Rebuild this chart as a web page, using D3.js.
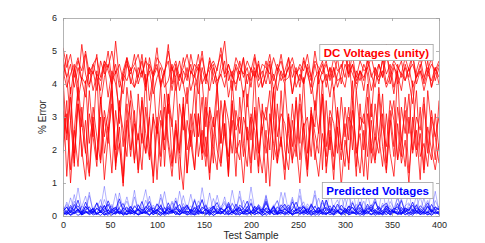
<!DOCTYPE html>
<html>
<head>
<meta charset="utf-8">
<script src="https://cdn.jsdelivr.net/npm/d3@7"></script>
<style>
  body { margin: 0; background: #fff; }
  text { font-family: "Liberation Sans", Arial, sans-serif; }
</style>
</head>
<body>
<div id="chart"></div>
<script>
// sample index, one value every 4 test samples
var sampleStep = 4;
var xTicks = [0, 50, 100, 150, 200, 250, 300, 350, 400];
var yTicks = [0, 1, 2, 3, 4, 5, 6];

var dcUpper1 = [4.8,4.2,4.6,3.9,4.5,4.1,4.9,4.0,4.4,3.8,4.7,4.3,5.0,4.1,4.6,3.9,4.4,4.8,4.0,4.5,4.2,4.9,3.9,4.6,4.3,5.1,4.0,4.4,4.7,3.8,4.5,4.1,4.8,4.2,4.6,3.9,4.3,5.0,4.1,4.7,4.0,4.5,4.9,4.2,4.4,3.8,4.6,4.3,4.8,4.0,4.5,4.2,4.7,3.9,4.4,4.9,4.1,4.6,4.3,4.0,4.8,4.2,4.5,3.9,4.7,4.4,4.1,5.0,4.3,4.6,3.9,4.5,4.2,4.8,4.0,4.6,4.3,4.9,4.1,4.4,3.8,4.7,4.2,4.5,4.0,4.8,4.3,4.6,3.9,4.4,4.7,4.1,4.5,4.9,4.2,4.6,4.0,4.4,4.8,4.1,4.5];
var dcUpper2 = [4.1,4.9,3.7,4.5,4.0,5.2,4.3,3.9,4.6,4.2,3.8,4.7,4.4,4.0,5.3,4.1,3.7,4.6,4.3,4.9,4.0,4.4,3.8,4.8,4.2,4.5,3.9,4.3,5.2,4.0,4.6,3.8,4.4,4.1,4.9,4.3,3.7,4.5,4.0,4.8,4.3,3.9,4.6,5.3,4.1,4.4,3.8,4.7,4.2,4.5,3.9,4.8,4.1,4.4,4.0,4.6,3.8,4.3,4.9,4.2,4.5,3.7,4.4,4.1,4.8,4.3,3.9,4.6,4.0,4.4,4.7,4.1,4.5,3.9,4.3,5.1,4.2,4.6,3.8,4.4,4.1,4.8,4.3,3.9,4.6,4.2,5.2,4.0,4.5,4.3,3.8,4.6,4.2,4.9,4.0,4.4,4.1,4.7,3.9,4.5,4.2];
var dcUpper3 = [4.4,3.9,4.3,4.6,3.5,4.2,4.0,4.5,3.8,4.3,4.1,4.6,3.6,4.4,4.0,3.2,4.3,4.1,4.5,3.9,4.2,4.7,4.0,4.4,3.7,4.2,4.5,3.9,4.1,4.6,3.8,4.3,4.0,3.4,4.4,4.2,4.6,4.0,4.3,3.8,4.5,4.1,4.3,3.9,4.6,4.2,4.0,4.4,3.6,4.3,4.1,4.5,3.9,4.2,4.7,4.0,4.3,3.8,4.4,4.1,4.2,4.6,3.9,4.3,4.0,4.5,3.7,4.2,4.4,4.0,4.3,3.6,4.5,4.1,4.2,3.9,4.6,4.3,4.0,4.4,4.2,4.5,3.8,4.3,4.1,4.4,3.9,4.2,4.6,4.0,4.3,4.1,4.5,3.9,4.2,4.4,3.8,4.3,4.1,4.5,4.0];
var dcUpper4 = [4.6,4.2,2.9,4.4,4.8,4.1,3.6,4.5,4.3,4.9,3.4,4.2,4.6,4.0,4.4,2.8,4.3,4.7,4.1,3.9,4.5,4.2,4.8,3.5,4.3,4.6,4.0,4.4,3.1,4.5,4.2,4.7,4.0,4.5,3.8,4.3,4.9,4.1,2.7,4.4,4.6,4.0,4.3,4.7,3.6,4.2,4.5,4.1,4.8,3.3,4.4,4.2,4.6,3.9,4.3,4.7,2.9,4.5,4.1,4.4,4.8,3.7,4.3,4.5,4.0,4.6,4.2,3.2,4.4,4.7,4.1,4.5,3.8,4.3,4.6,4.2,4.9,3.5,4.4,4.1,4.6,4.3,3.0,4.5,4.2,4.7,4.0,4.4,3.7,4.6,4.2,4.5,4.1,3.4,4.4,4.8,4.2,4.5,3.9,4.3,4.6];
var dcUpper5 = [5.1,4.5,4.9,4.2,4.7,4.4,5.0,4.3,4.6,4.8,4.2,4.7,4.5,5.0,4.3,4.6,4.1,4.8,4.4,4.6,4.9,4.3,4.7,4.5,4.2,4.8,4.6,4.3,5.0,4.4,4.7,4.2,4.5,4.9,4.3,4.6,4.4,4.8,4.2,4.5,4.7,4.4,5.1,4.3,4.6,4.2,4.8,4.5,4.3,4.7,4.4,4.9,4.2,4.6,4.5,4.3,4.8,4.4,4.7,4.2,4.5,4.8,4.3,4.6,4.4,4.9,4.2,4.7,4.5,4.3,4.6,4.2,4.8,4.4,4.5,4.9,4.3,4.6,4.2,4.7,4.4,4.5,4.8,4.3,4.6,4.2,4.9,4.4,4.7,4.5,4.3,4.8,4.4,4.6,4.2,4.5,4.9,4.3,4.6,4.4,4.7];
var dcLower1 = [3.8,1.2,2.9,1.6,3.4,2.0,1.1,3.1,2.4,1.5,3.6,1.9,2.7,1.3,3.2,2.2,1.0,2.8,3.5,1.7,2.5,1.4,3.3,2.1,1.2,3.0,1.8,3.7,2.3,1.5,2.9,1.1,3.4,2.0,2.6,1.4,3.1,1.9,3.6,1.3,2.4,3.2,1.6,2.8,1.2,3.5,2.1,1.7,3.0,2.5,1.3,3.3,1.9,2.7,1.0,3.1,2.2,1.6,3.8,2.0,1.4,2.9,1.8,3.4,2.3,1.2,3.0,1.7,2.6,3.6,1.5,2.4,1.1,3.2,2.0,2.8,1.4,3.5,1.9,2.5,1.2,3.1,2.2,1.6,3.7,2.1,1.3,2.9,1.8,3.3,2.4,1.5,3.0,1.9,2.6,1.1,3.4,2.2,1.7,3.1,2.0];
var dcLower2 = [2.1,3.5,1.4,2.6,3.9,1.8,2.9,1.3,3.3,2.4,1.6,3.0,2.2,3.8,1.5,2.7,1.2,3.4,2.0,2.8,1.4,3.6,2.5,1.7,3.1,1.1,2.9,2.3,3.7,1.6,2.8,1.9,3.3,1.3,2.5,3.9,1.8,2.6,1.5,3.2,2.1,1.4,3.5,2.4,1.8,2.9,1.2,3.6,2.2,1.5,3.1,2.6,1.3,3.4,1.9,2.7,3.8,1.6,2.3,1.1,3.0,2.1,3.5,1.7,2.8,1.4,3.2,2.5,1.9,3.7,1.3,2.6,1.8,3.3,2.2,1.5,3.0,2.7,1.2,3.4,2.0,3.6,1.6,2.4,1.9,3.1,1.4,2.8,3.5,1.7,2.3,3.2,1.3,2.6,3.8,1.8,2.2,1.5,3.0,2.4,1.6];
var dcLower3 = [3.2,2.5,3.9,1.9,3.4,2.7,4.1,2.2,3.0,1.7,3.6,2.4,3.1,4.0,2.0,3.3,2.6,1.8,3.8,2.9,2.3,3.5,1.9,3.0,4.2,2.5,3.2,2.0,3.7,2.8,1.6,3.4,2.6,3.9,2.1,3.1,2.4,3.6,1.8,3.3,2.7,4.0,2.2,3.5,2.9,1.9,3.2,2.5,3.8,2.3,3.0,1.7,3.6,2.6,3.3,2.0,3.9,2.4,3.1,2.8,1.9,3.4,2.2,3.7,2.7,3.0,1.8,3.5,2.5,4.1,2.1,3.2,2.8,1.9,3.6,2.4,3.3,2.0,3.8,2.6,3.1,1.8,3.4,2.3,3.9,2.7,2.1,3.5,2.9,1.7,3.3,2.5,3.7,2.0,3.0,2.6,3.6,1.9,3.2,2.4,3.0];
var dcLower4 = [1.9,3.1,1.0,2.6,1.5,3.3,2.0,1.2,2.8,1.7,3.0,1.1,2.4,3.4,1.6,2.2,0.9,2.9,1.8,3.2,1.3,2.5,1.9,3.0,1.0,2.7,1.5,3.3,2.1,1.2,2.6,1.8,0.8,2.9,2.2,1.4,3.1,1.7,2.4,1.1,3.0,2.0,1.5,2.8,1.2,3.4,1.9,2.3,1.0,2.7,1.6,3.2,2.1,1.3,2.6,0.9,2.9,1.8,2.4,1.4,3.1,1.7,2.2,1.0,2.8,1.5,3.3,2.0,1.2,2.5,1.8,3.0,1.4,2.7,0.9,2.3,1.6,3.2,2.1,1.3,2.6,1.1,2.9,1.7,2.4,1.5,3.1,1.9,1.2,2.8,1.6,2.3,1.0,3.0,1.8,2.5,1.3,2.7,2.0,1.4,2.2];
var dcLower5 = [4.2,2.3,3.6,1.5,4.0,2.8,1.9,3.8,2.4,4.4,1.7,3.2,2.6,4.1,1.4,3.5,2.1,3.9,2.9,1.6,3.7,2.2,4.3,1.8,3.0,2.5,4.0,1.5,3.4,2.7,4.2,2.0,3.6,1.3,3.1,2.4,4.5,1.9,3.3,2.8,1.6,3.9,2.2,3.5,1.4,4.1,2.6,3.0,1.8,3.7,2.3,4.4,1.5,3.2,2.9,3.8,1.7,3.4,2.1,4.0,2.5,1.6,3.6,2.2,4.2,1.9,3.1,2.7,4.3,1.4,3.5,2.0,3.9,2.6,1.7,3.3,2.3,4.1,1.5,3.0,2.8,4.0,1.9,3.4,2.4,3.7,1.6,3.2,2.1,4.4,1.8,3.6,2.5,4.1,2.0,3.3,1.4,3.8,2.7,1.7,3.5];

var predicted1 = [0.12,0.05,0.18,0.08,0.22,0.04,0.15,0.09,0.20,0.06,0.14,0.03,0.19,0.10,0.07,0.23,0.05,0.16,0.11,0.04,0.21,0.08,0.13,0.02,0.17,0.09,0.24,0.06,0.12,0.15,0.04,0.20,0.07,0.14,0.10,0.03,0.18,0.08,0.22,0.05,0.13,0.16,0.06,0.19,0.09,0.04,0.21,0.11,0.07,0.15,0.03,0.18,0.10,0.06,0.23,0.08,0.14,0.05,0.17,0.12,0.04,0.20,0.09,0.15,0.06,0.19,0.03,0.13,0.10,0.22,0.07,0.16,0.05,0.18,0.11,0.04,0.21,0.08,0.14,0.06,0.19,0.09,0.03,0.17,0.12,0.05,0.23,0.07,0.15,0.10,0.04,0.18,0.08,0.20,0.06,0.13,0.11,0.03,0.16,0.09,0.14];
var predicted2 = [0.25,0.10,0.32,0.15,0.48,0.08,0.28,0.18,0.12,0.40,0.09,0.22,0.35,0.11,0.19,0.52,0.14,0.26,0.07,0.31,0.16,0.44,0.10,0.24,0.13,0.37,0.20,0.08,0.29,0.15,0.46,0.12,0.23,0.34,0.09,0.27,0.17,0.50,0.11,0.21,0.30,0.08,0.25,0.14,0.41,0.18,0.10,0.33,0.22,0.12,0.38,0.09,0.26,0.16,0.45,0.13,0.28,0.07,0.24,0.35,0.11,0.20,0.42,0.15,0.27,0.10,0.32,0.18,0.08,0.48,0.14,0.23,0.12,0.36,0.19,0.09,0.30,0.25,0.13,0.43,0.10,0.21,0.34,0.16,0.08,0.29,0.39,0.12,0.24,0.17,0.47,0.11,0.26,0.15,0.33,0.09,0.22,0.40,0.14,0.28,0.18];
var predicted3 = [0.30,0.12,0.55,0.18,0.85,0.20,0.10,0.62,0.15,0.40,0.22,0.90,0.14,0.35,0.08,0.70,0.19,0.28,0.11,0.58,0.16,0.33,0.80,0.12,0.25,0.09,0.66,0.21,0.14,0.45,0.10,0.75,0.18,0.30,0.13,0.52,0.08,0.86,0.20,0.26,0.11,0.63,0.17,0.38,0.09,0.78,0.22,0.14,0.48,0.12,0.88,0.19,0.27,0.10,0.60,0.15,0.34,0.08,0.72,0.21,0.13,0.50,0.18,0.82,0.11,0.29,0.16,0.64,0.09,0.40,0.20,0.76,0.12,0.31,0.15,0.56,0.08,0.89,0.18,0.24,0.10,0.68,0.14,0.42,0.21,0.84,0.12,0.32,0.09,0.60,0.17,0.27,0.73,0.11,0.36,0.15,0.54,0.08,0.81,0.19,0.30];
var predicted4 = [0.06,0.16,0.03,0.11,0.20,0.05,0.13,0.08,0.24,0.04,0.17,0.09,0.02,0.14,0.21,0.07,0.12,0.04,0.18,0.10,0.05,0.22,0.08,0.15,0.03,0.19,0.11,0.06,0.25,0.09,0.13,0.04,0.17,0.08,0.21,0.05,0.14,0.10,0.03,0.19,0.07,0.23,0.12,0.05,0.16,0.09,0.20,0.04,0.13,0.18,0.06,0.11,0.24,0.08,0.15,0.03,0.19,0.10,0.05,0.22,0.12,0.07,0.17,0.04,0.14,0.21,0.09,0.06,0.18,0.11,0.03,0.20,0.08,0.15,0.05,0.23,0.10,0.13,0.04,0.17,0.09,0.06,0.21,0.12,0.07,0.16,0.03,0.19,0.11,0.14,0.05,0.22,0.08,0.13,0.18,0.04,0.15,0.09,0.20,0.06,0.12];
var predicted5 = [0.20,0.35,0.10,0.45,0.16,0.28,0.60,0.12,0.24,0.38,0.14,0.50,0.18,0.30,0.09,0.42,0.22,0.58,0.13,0.27,0.36,0.11,0.48,0.19,0.33,0.15,0.55,0.21,0.10,0.40,0.25,0.13,0.62,0.18,0.31,0.09,0.46,0.23,0.35,0.12,0.53,0.17,0.28,0.44,0.11,0.37,0.20,0.59,0.14,0.26,0.41,0.10,0.34,0.22,0.51,0.16,0.29,0.47,0.12,0.36,0.19,0.57,0.13,0.27,0.43,0.09,0.32,0.24,0.54,0.15,0.39,0.11,0.30,0.49,0.18,0.25,0.61,0.14,0.35,0.20,0.45,0.12,0.28,0.52,0.17,0.33,0.10,0.44,0.23,0.56,0.15,0.31,0.40,0.13,0.26,0.58,0.19,0.34,0.11,0.47,0.22];
var predicted6 = [0.15,0.26,0.09,0.21,0.31,0.12,0.18,0.28,0.07,0.23,0.14,0.33,0.10,0.19,0.27,0.08,0.24,0.16,0.30,0.11,0.20,0.06,0.29,0.17,0.25,0.13,0.34,0.09,0.22,0.15,0.28,0.10,0.19,0.32,0.12,0.24,0.07,0.27,0.18,0.14,0.30,0.09,0.23,0.16,0.35,0.11,0.21,0.26,0.08,0.29,0.13,0.20,0.31,0.10,0.25,0.17,0.07,0.28,0.15,0.22,0.33,0.12,0.19,0.27,0.09,0.24,0.14,0.30,0.11,0.18,0.26,0.08,0.32,0.16,0.21,0.13,0.29,0.10,0.23,0.36,0.12,0.18,0.27,0.09,0.25,0.15,0.31,0.11,0.20,0.28,0.07,0.24,0.17,0.33,0.12,0.22,0.14,0.30,0.10,0.26,0.19];
var predicted7 = [0.08,0.42,0.14,0.65,0.10,0.30,0.18,0.72,0.12,0.25,0.50,0.09,0.36,0.16,0.68,0.11,0.22,0.45,0.13,0.78,0.10,0.28,0.15,0.60,0.08,0.34,0.20,0.74,0.12,0.26,0.55,0.09,0.38,0.17,0.66,0.11,0.24,0.48,0.14,0.70,0.10,0.31,0.19,0.58,0.08,0.40,0.15,0.76,0.12,0.27,0.52,0.10,0.35,0.18,0.64,0.09,0.23,0.46,0.13,0.71,0.11,0.29,0.16,0.62,0.08,0.37,0.21,0.77,0.12,0.25,0.49,0.10,0.33,0.15,0.67,0.09,0.26,0.44,0.14,0.73,0.11,0.30,0.17,0.57,0.08,0.39,0.20,0.69,0.13,0.24,0.53,0.10,0.36,0.16,0.63,0.09,0.28,0.47,0.12,0.75,0.15];
var predicted8 = [0.03,0.09,0.05,0.12,0.02,0.08,0.14,0.04,0.10,0.06,0.13,0.03,0.07,0.11,0.05,0.15,0.02,0.09,0.06,0.12,0.04,0.10,0.08,0.03,0.13,0.06,0.11,0.02,0.09,0.14,0.05,0.07,0.12,0.04,0.10,0.03,0.08,0.13,0.06,0.11,0.02,0.09,0.15,0.05,0.07,0.12,0.03,0.10,0.06,0.08,0.13,0.04,0.11,0.02,0.09,0.14,0.05,0.07,0.12,0.03,0.10,0.06,0.08,0.13,0.04,0.11,0.02,0.09,0.15,0.05,0.07,0.12,0.03,0.10,0.06,0.14,0.04,0.08,0.11,0.02,0.09,0.13,0.05,0.07,0.12,0.03,0.10,0.06,0.14,0.04,0.08,0.11,0.02,0.09,0.13,0.05,0.07,0.12,0.03,0.10,0.06];
var predicted9 = [0.10,0.04,0.14,0.07,0.17,0.03,0.11,0.06,0.15,0.08,0.02,0.12,0.18,0.05,0.09,0.13,0.04,0.16,0.07,0.11,0.03,0.14,0.08,0.19,0.05,0.10,0.02,0.13,0.06,0.17,0.09,0.04,0.12,0.15,0.03,0.08,0.18,0.06,0.11,0.02,0.14,0.07,0.10,0.16,0.04,0.12,0.05,0.19,0.08,0.03,0.13,0.09,0.06,0.15,0.02,0.11,0.17,0.04,0.10,0.07,0.14,0.03,0.12,0.08,0.18,0.05,0.09,0.16,0.02,0.13,0.06,0.11,0.04,0.15,0.08,0.19,0.03,0.10,0.07,0.14,0.05,0.12,0.17,0.02,0.09,0.06,0.15,0.04,0.11,0.08,0.18,0.03,0.13,0.07,0.10,0.16,0.05,0.12,0.02,0.14,0.08];
var predicted10 = [0.18,0.08,0.26,0.12,0.21,0.06,0.29,0.14,0.09,0.24,0.11,0.30,0.07,0.19,0.25,0.10,0.16,0.05,0.27,0.13,0.22,0.08,0.17,0.31,0.11,0.20,0.06,0.26,0.15,0.09,0.23,0.12,0.28,0.07,0.18,0.14,0.32,0.10,0.21,0.05,0.25,0.13,0.08,0.19,0.29,0.11,0.16,0.24,0.06,0.20,0.12,0.27,0.09,0.22,0.15,0.07,0.30,0.13,0.18,0.10,0.26,0.05,0.21,0.14,0.28,0.09,0.17,0.11,0.24,0.08,0.19,0.31,0.12,0.16,0.06,0.23,0.14,0.27,0.10,0.20,0.07,0.25,0.13,0.18,0.29,0.09,0.22,0.11,0.15,0.06,0.26,0.12,0.20,0.08,0.24,0.16,0.10,0.28,0.13,0.19,0.09];
var predicted11 = [0.05,0.11,0.02,0.08,0.13,0.04,0.09,0.15,0.03,0.07,0.12,0.05,0.10,0.02,0.14,0.06,0.09,0.04,0.11,0.16,0.03,0.08,0.13,0.05,0.10,0.07,0.02,0.12,0.06,0.09,0.14,0.04,0.11,0.03,0.08,0.15,0.05,0.10,0.07,0.12,0.02,0.09,0.06,0.13,0.04,0.11,0.08,0.03,0.14,0.07,0.10,0.05,0.12,0.02,0.09,0.16,0.04,0.08,0.11,0.06,0.13,0.03,0.10,0.07,0.12,0.05,0.15,0.02,0.09,0.06,0.11,0.04,0.08,0.14,0.03,0.10,0.07,0.12,0.05,0.09,0.02,0.13,0.06,0.11,0.04,0.08,0.15,0.03,0.10,0.07,0.12,0.05,0.09,0.02,0.14,0.06,0.11,0.04,0.08,0.13,0.05];
var predicted12 = [0.14,0.28,0.09,0.35,0.17,0.11,0.42,0.15,0.22,0.08,0.31,0.13,0.46,0.19,0.10,0.27,0.38,0.12,0.20,0.07,0.33,0.16,0.24,0.44,0.11,0.18,0.29,0.09,0.40,0.14,0.21,0.35,0.10,0.26,0.15,0.47,0.12,0.19,0.32,0.08,0.24,0.41,0.13,0.17,0.28,0.10,0.36,0.15,0.22,0.45,0.09,0.30,0.18,0.12,0.39,0.14,0.25,0.07,0.34,0.20,0.11,0.43,0.16,0.23,0.31,0.10,0.37,0.13,0.27,0.08,0.48,0.17,0.21,0.12,0.33,0.19,0.09,0.40,0.15,0.26,0.11,0.36,0.14,0.44,0.18,0.10,0.29,0.22,0.13,0.38,0.08,0.25,0.16,0.42,0.12,0.31,0.20,0.09,0.35,0.17,0.23];

var dcSeries = [dcLower4, dcUpper1, dcLower1, dcUpper2, dcLower2, dcUpper3, dcLower3, dcUpper4, dcLower5, dcUpper5];
var predictedSeries = [predicted3, predicted7, predicted5, predicted2, predicted12, predicted6, predicted10,
  predicted1, predicted4, predicted9, predicted11, predicted8];

var width = 485, height = 243;
var margin = { top: 18, right: 46, bottom: 27, left: 63 };
var innerW = width - margin.left - margin.right;
var innerH = height - margin.top - margin.bottom;

var svg = d3.select('#chart').append('svg')
  .attr('width', width)
  .attr('height', height);

var g = svg.append('g')
  .attr('transform', 'translate(' + margin.left + ',' + margin.top + ')');

var x = d3.scaleLinear().domain([0, 400]).range([0, innerW]);
var y = d3.scaleLinear().domain([0, 6]).range([innerH, 0]);

g.append('clipPath').attr('id', 'plot-clip')
  .append('rect').attr('width', innerW).attr('height', innerH);

var line = d3.line()
  .x(function(d, i) { return x(i * sampleStep); })
  .y(function(d) { return y(d); });

var plot = g.append('g').attr('clip-path', 'url(#plot-clip)');

plot.selectAll('.dc')
  .data(dcSeries)
  .enter()
  .append('path')
  .attr('class', 'dc')
  .attr('d', line)
  .attr('fill', 'none')
  .attr('stroke', '#ff0000')
  .attr('stroke-width', 0.75);

plot.selectAll('.pred')
  .data(predictedSeries)
  .enter()
  .append('path')
  .attr('class', 'pred')
  .attr('d', line)
  .attr('fill', 'none')
  .attr('stroke', '#0000ff')
  .attr('stroke-width', function(d, i) { return i < 3 ? 0.5 : 0.75; })
  .attr('stroke-opacity', function(d, i) { return i < 3 ? 0.6 : 0.95; });

// axes, MATLAB style box with inward ticks
function styleAxis(sel) {
  sel.select('.domain').attr('stroke', '#a0a0a0').attr('stroke-width', 0.8);
  sel.selectAll('.tick line').attr('stroke', '#a0a0a0').attr('stroke-width', 0.8);
  sel.selectAll('.tick text').attr('fill', '#262626').style('font-size', '9px');
}

g.append('g')
  .attr('transform', 'translate(0,' + innerH + ')')
  .call(d3.axisBottom(x).tickValues(xTicks).tickSizeInner(-3).tickSizeOuter(0).tickPadding(6))
  .call(styleAxis);
g.append('g')
  .call(d3.axisTop(x).tickValues(xTicks).tickSizeInner(-3).tickSizeOuter(0).tickFormat(''))
  .call(styleAxis);
g.append('g')
  .call(d3.axisLeft(y).tickValues(yTicks).tickFormat(d3.format('d'))
    .tickSizeInner(-3).tickSizeOuter(0).tickPadding(6))
  .call(styleAxis);
g.append('g')
  .attr('transform', 'translate(' + innerW + ',0)')
  .call(d3.axisRight(y).tickValues(yTicks).tickSizeInner(-3).tickSizeOuter(0).tickFormat(''))
  .call(styleAxis);

g.append('text')
  .attr('x', innerW / 2)
  .attr('y', innerH + 23)
  .attr('text-anchor', 'middle')
  .attr('fill', '#262626')
  .style('font-size', '10px')
  .text('Test Sample');

g.append('text')
  .attr('transform', 'translate(-17,' + (innerH / 2) + ') rotate(-90)')
  .attr('text-anchor', 'middle')
  .attr('fill', '#262626')
  .style('font-size', '10px')
  .text('% Error');

// boxed labels
function boxLabel(txt, color, right, cy) {
  var lab = g.append('g');
  var t = lab.append('text')
    .attr('x', right - 4)
    .attr('y', cy)
    .attr('dy', '0.36em')
    .attr('text-anchor', 'end')
    .attr('fill', color)
    .style('font-size', '11.5px')
    .style('font-weight', 'bold')
    .text(txt);
  var bb = t.node().getBBox();
  lab.insert('rect', 'text')
    .attr('x', bb.x - 4)
    .attr('y', cy - 8)
    .attr('width', bb.width + 8)
    .attr('height', 16)
    .attr('fill', '#fff')
    .attr('stroke', '#a0a0a0')
    .attr('stroke-width', 0.8);
}

boxLabel('DC Voltages (unity)', '#ff0000', 433 - margin.left, 52.5 - margin.top);
boxLabel('Predicted Voltages', '#0000ff', 433 - margin.left, 190.5 - margin.top);
</script>
</body>
</html>
